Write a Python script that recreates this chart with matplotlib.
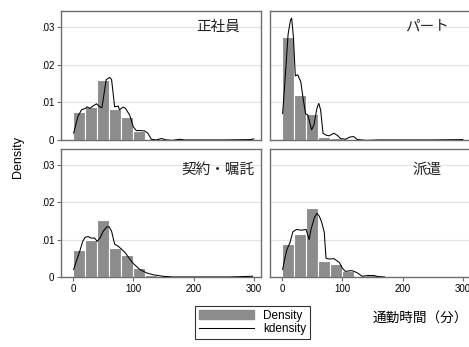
import matplotlib
matplotlib.use("Agg")
import matplotlib.pyplot as plt
from matplotlib.patches import Patch
from matplotlib.lines import Line2D

plt.rcParams['font.family'] = ['Liberation Sans', 'Noto Sans CJK JP', 'DejaVu Sans']

bin_left = [0, 20, 40, 60, 80, 100, 120, 140]
bin_width = 20

titles = ["正社員", "パート", "契約・嘱託", "派遣"]

# histogram densities per 20-minute bin
hist_seisha = [0.0073, 0.0087, 0.0158, 0.0081, 0.0060, 0.0024, 0.0002, 0.0001]
hist_part = [0.0274, 0.0119, 0.0069, 0.0009, 0.0006, 0.0002, 0.0001, 0.0001]
hist_keiyaku = [0.0071, 0.0100, 0.0153, 0.0077, 0.0058, 0.0024, 0.0005, 0.0003]
hist_haken = [0.0089, 0.0116, 0.0184, 0.0042, 0.0035, 0.0015, 0.0003, 0.0005]

# kernel density curves
kd_seisha_x = [1, 8, 14, 21, 23, 28, 33, 39, 44, 48, 55, 61, 64, 69, 75, 77, 83, 87,
               94, 100, 105, 111, 119, 124, 130, 138, 147, 155, 165, 177, 185, 250, 295, 300]
kd_seisha_y = [0.0018, 0.0062, 0.0080, 0.0084, 0.0088, 0.0084, 0.0090, 0.0096, 0.0088, 0.0086,
               0.0160, 0.0166, 0.0160, 0.0088, 0.0090, 0.0080, 0.0087, 0.0084,
               0.0066, 0.0035, 0.0025, 0.0025, 0.0024, 0.0018, 0.0002, 0.0, 0.0004, 0.0,
               -0.0001, 0.0002, 0.0, 0.0, 0.0001, 0.0003]

kd_part_x = [1, 5, 10, 14, 16, 19, 22, 26, 31, 35, 39, 43, 49, 53, 58, 61, 64, 68, 73,
             78, 86, 92, 97, 105, 113, 119, 125, 140, 160, 200, 250, 300]
kd_part_y = [0.0070, 0.0160, 0.0280, 0.0318, 0.0323, 0.0270, 0.0170, 0.0173, 0.0155, 0.0110,
             0.0070, 0.0066, 0.0027, 0.0040, 0.0085, 0.0097, 0.0080, 0.0018, 0.0013,
             0.0011, 0.0018, 0.0012, 0.0004, 0.0002, 0.0008, 0.0009, 0.0001, -0.0001,
             0.0, 0.0, 0.0, 0.0001]

kd_keiyaku_x = [1, 6, 11, 16, 20, 25, 30, 36, 40, 45, 50, 56, 60, 64, 69, 75, 80, 86, 91,
                100, 111, 122, 133, 149, 165, 200, 260, 298]
kd_keiyaku_y = [0.0020, 0.0045, 0.0068, 0.0095, 0.0106, 0.0108, 0.0104, 0.0104, 0.0095, 0.0105,
                0.0122, 0.0134, 0.0134, 0.0122, 0.0088, 0.0082, 0.0075, 0.0066, 0.0055,
                0.0036, 0.0020, 0.0011, 0.0006, 0.0002, 0.0, 0.0, 0.0, 0.0002]

kd_haken_x = [1, 4, 8, 13, 18, 24, 32, 40, 45, 48, 54, 58, 62, 66, 70, 73, 78, 86, 95,
              100, 105, 110, 116, 124, 133, 143, 152, 160, 170]
kd_haken_y = [0.0020, 0.0045, 0.0073, 0.0091, 0.0121, 0.0127, 0.0125, 0.0127, 0.0100, 0.0127,
              0.0160, 0.0170, 0.0162, 0.0145, 0.0120, 0.0050, 0.0048, 0.0049, 0.0039,
              0.0024, 0.0015, 0.0016, 0.0017, 0.0012, 0.0002, 0.0004, 0.0004, 0.0001, 0.0]

hists = [hist_seisha, hist_part, hist_keiyaku, hist_haken]
kdes = [(kd_seisha_x, kd_seisha_y), (kd_part_x, kd_part_y),
        (kd_keiyaku_x, kd_keiyaku_y), (kd_haken_x, kd_haken_y)]

W, H = 469, 347
fig = plt.figure(figsize=(W / 100, H / 100), dpi=100)
fig.patch.set_facecolor("white")

# pixel boxes: left, top, width, height
boxes = [(61, 11, 200, 129), (270, 11, 200, 129),
         (61, 149, 200, 128), (270, 149, 200, 128)]
title_y = [0.88, 0.88, 0.835, 0.835]

frame_c = "#6e6e6e"
bar_c = "#8c8c8c"

for i, (l, t, w, h) in enumerate(boxes):
    ax = fig.add_axes([l / W, (H - t - h) / H, w / W, h / H])
    ax.bar(bin_left, hists[i], width=bin_width, align="edge", color=bar_c,
           edgecolor="white", linewidth=0.8, zorder=2)
    ax.plot(kdes[i][0], kdes[i][1], color="black", linewidth=0.75, zorder=3)
    ax.set_xlim(-20, 312)
    ax.set_ylim(0, 0.0342)
    ax.set_yticks([0, 0.01, 0.02, 0.03])
    ax.grid(axis="y", color="#e3e3e3", linewidth=0.8, zorder=0)
    ax.set_axisbelow(True)
    for s in ax.spines.values():
        s.set_color(frame_c)
        s.set_linewidth(1.0)
    ax.tick_params(axis="both", colors=frame_c, length=3, width=0.8,
                   labelsize=7, labelcolor="black", pad=2)
    if i % 2 == 0:
        ax.set_yticklabels(["0", ".01", ".02", ".03"])
    else:
        ax.set_yticklabels([])
        ax.tick_params(axis="y", length=0)
    if i >= 2:
        ax.set_xticks([0, 100, 200, 300])
        ax.set_xticklabels(["0", "100", "200", "300"])
    else:
        ax.set_xticks([])
    ax.text(0.785, title_y[i], titles[i], transform=ax.transAxes,
            ha="center", va="center", fontsize=10.5, color="#222222")

fig.text(18 / W, 1 - 157 / H, "Density", rotation=90, ha="center", va="center", fontsize=9)
fig.text(373 / W, 1 - 318 / H, "通勤時間（分）", ha="left", va="center", fontsize=9.8)

handles = [Patch(facecolor=bar_c, edgecolor=bar_c),
           Line2D([0], [0], color="black", linewidth=0.75)]
leg = fig.legend(handles, ["Density", "kdensity"], loc="upper left",
                 bbox_to_anchor=(195 / W, 1 - 306 / H), fontsize=8.5, frameon=True,
                 fancybox=False, edgecolor="black", borderpad=0.3, handlelength=4.7,
                 handleheight=0.9, labelspacing=0.15, borderaxespad=0)
leg.get_frame().set_linewidth(0.8)

fig.savefig("out.png", dpi=100)
